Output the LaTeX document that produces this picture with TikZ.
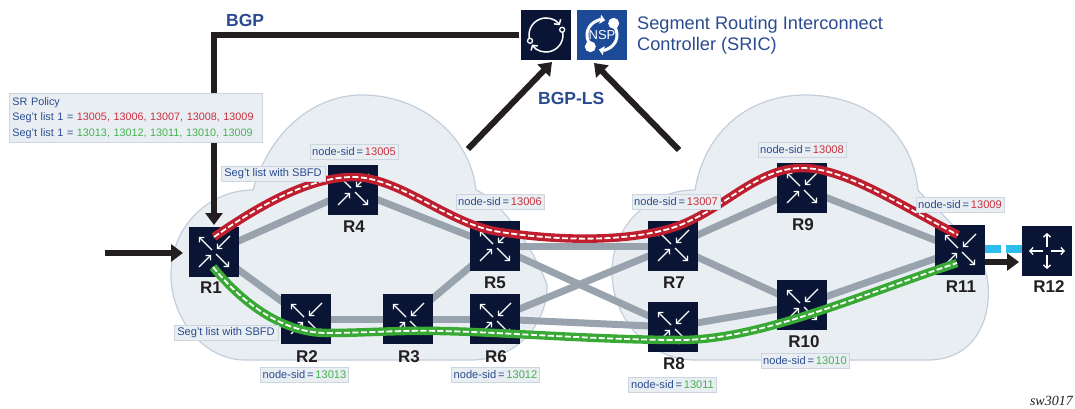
\documentclass[tikz,border=0pt]{standalone}
\usepackage{fontspec}
\setmainfont{Liberation Sans}
\newfontfamily\serfont{Liberation Serif}
\usetikzlibrary{arrows.meta}
\definecolor{cloudfill}{HTML}{E9EEF3}
\definecolor{cloudline}{HTML}{C3CEDB}
\definecolor{labline}{HTML}{CDD6E0}
\definecolor{linkgrey}{HTML}{98A3AE}
\definecolor{navy}{HTML}{0A1435}
\definecolor{nspblue}{HTML}{1D4A97}
\definecolor{txtblue}{HTML}{2A4B8F}
\definecolor{txtred}{HTML}{C9303F}
\definecolor{txtgreen}{HTML}{45B253}
\definecolor{pathred}{HTML}{BE1E2D}
\definecolor{pathgreen}{HTML}{39A935}
\definecolor{blk}{HTML}{231F20}
\definecolor{cyanlink}{HTML}{2FBDEB}
\tikzset{
  cloudshape/.style={fill=cloudfill,draw=cloudline,line width=1.2pt},
  glink/.style={draw=linkgrey,line width=7pt},
  routerbox/.style={fill=navy,draw=none,minimum size=50pt,inner sep=0pt,outer sep=2pt},
  rname/.style={font=\fontsize{17}{17}\selectfont\bfseries,text=blk,inner sep=0pt},
  lab/.style={fill=cloudfill,draw=labline,line width=0.9pt,inner sep=0pt,text=txtblue,font=\fontsize{11.1}{15.6}\selectfont},
  sidlab/.style={lab,minimum width=88pt,minimum height=15pt},
  heavy/.style={draw=blk,line width=6pt},
  heavyarrow/.style={heavy,-{Triangle[length=12pt,width=17pt]}},
  icoarrow/.style={draw=white,line width=1.3pt,-{Straight Barb[length=3.2pt,width=7pt]}},
  outerred/.style={draw=pathred,line width=8.5pt},
  outergreen/.style={draw=pathgreen,line width=8.5pt},
  innerdash/.style={draw=white,line width=1.8pt,dash pattern=on 6pt off 2.5pt},
  bluetitle/.style={text=txtblue,inner sep=0pt,anchor=west},
}
\newcommand{\rtr}[3]{% name, position, label position
  \node[routerbox] (#1) at (#2) {};
  \foreach \a/\b/\c/\d in {-2/-2/-15/-15,16/-16/3/-3,-15/15/-3/3,2/2/15/15}
    \draw[icoarrow] ([shift={(\a,\b)}]#1.center) -- ([shift={(\c,\d)}]#1.center);
  \node[rname] (#1lab) at (#3) {\MakeUppercase{#1}};
}
\newcommand{\sidbox}[4]{\node[sidlab] (#1) at (#2) {node-sid\,=\,\textcolor{#4}{#3}};}
\begin{document}
\begin{tikzpicture}[x=1pt,y=-1pt]
\useasboundingbox (0,0) rectangle (1075,409);
% clouds
\path[cloudshape] (253,190) .. controls (270,130) and (315,95) .. (362,95)
  .. controls (420,95) and (470,135) .. (476,190)
  .. controls (500,200) and (535,250) .. (547,285)
  .. controls (548,320) and (520,360) .. (470,360) -- (245,360)
  .. controls (205,360) and (171,320) .. (171,275)
  .. controls (171,225) and (210,190) .. (253,190) -- cycle;
\path[cloudshape] (695,190) .. controls (705,130) and (750,95) .. (805,95)
  .. controls (865,95) and (912,130) .. (918,190)
  .. controls (925,200) and (975,240) .. (985,270)
  .. controls (995,300) and (985,360) .. (928,360) -- (695,360)
  .. controls (650,360) and (612,320) .. (612,272)
  .. controls (612,225) and (650,190) .. (695,190) -- cycle;
% named positions for routers
\coordinate (pr1) at (214,252);
\coordinate (pr4) at (353,190);
\coordinate (pr2) at (306,319);
\coordinate (pr3) at (408,319);
\coordinate (pr5) at (495,246);
\coordinate (pr6) at (495,319);
\coordinate (pr7) at (673,246);
\coordinate (pr8) at (673,327);
\coordinate (pr9) at (802,188);
\coordinate (pr10) at (802,305);
\coordinate (pr11) at (960,250);
% links
\foreach \p/\q in {pr1/pr4,pr4/pr5,pr1/pr2,pr2/pr3,pr3/pr6,pr3/pr5,pr5/pr7,pr5/pr8,pr6/pr7,pr6/pr8,pr7/pr9,pr7/pr10,pr8/pr10,pr9/pr11,pr10/pr11}
  \draw[glink] (\p) -- (\q);
% routers
\rtr{r1}{pr1}{211,288}
\rtr{r4}{pr4}{354,227}
\rtr{r2}{pr2}{307,357}
\rtr{r3}{pr3}{409,357}
\rtr{r5}{pr5}{495,283}
\rtr{r6}{pr6}{496,357}
\rtr{r7}{pr7}{674,283}
\rtr{r8}{pr8}{674,364}
\rtr{r9}{pr9}{803,225}
\rtr{r10}{pr10}{804,342}
\rtr{r11}{pr11}{961,287}
% R12
\node[routerbox] (r12) at (1047,251) {};
\foreach \a/\b in {1/0,-1/0,0/1,0/-1}
  \draw[icoarrow] ([shift={(4*\a,4*\b)}]r12.center) -- ([shift={(18*\a,18*\b)}]r12.center);
\node[rname] (r12lab) at (1049,287) {R12};
% R11 - R12
\draw[draw=cyanlink,line width=8pt,dash pattern=on 16pt off 4.5pt] (985,249) -- (1022,249);
\coordinate (r11out) at (985,262);
\coordinate (r12in) at (1019,262);
\draw[heavyarrow] (r11out) -- (r12in);
% paths
\coordinate (redstart) at (214,237);
\coordinate (redend) at (958,235);
\coordinate (greenstart) at (213,267);
\coordinate (greenend) at (957,263);
\def\redpath{(redstart) .. controls (260,205) and (310,177) .. (353,177) .. controls (400,177) and (450,225) .. (500,232) .. controls (560,241) and (625,242) .. (672,228) .. controls (722,212) and (755,168) .. (802,168) .. controls (845,168) and (900,205) .. (redend)}
\def\greenpath{(greenstart) .. controls (240,300) and (280,333) .. (327,333) .. controls (365,333) and (400,330) .. (440,331) .. controls (500,332) and (600,340) .. (680,340) .. controls (760,340) and (860,295) .. (greenend)}
\draw[outerred] \redpath;
\draw[innerdash] \redpath;
\draw[outergreen] \greenpath;
\draw[innerdash] \greenpath;
% controller
\node[fill=navy,minimum size=50pt,inner sep=0pt,outer sep=2pt] (ctrl) at (546,35) {};
\node[fill=nspblue,minimum size=50pt,inner sep=0pt,outer sep=2pt] (nsp) at (602,35) {};
\draw[draw=white,line width=1.5pt,-{Straight Barb[length=3.5pt,width=8pt]}] (546,35) ++(200:17pt) arc[start angle=200,end angle=35,radius=17pt];
\draw[draw=white,line width=1.5pt,-{Straight Barb[length=3.5pt,width=8pt]}] (546,35) ++(18:17pt) arc[start angle=18,end angle=-146,radius=17pt];
\draw[draw=white,fill=navy,line width=1.3pt] (546,35) ++(200:17pt) circle[radius=2.5pt];
\draw[draw=white,fill=navy,line width=1.3pt] (546,35) ++(18:17pt) circle[radius=2.5pt];
% NSP icon
\draw[draw=white,line width=3pt,-{Triangle[length=5pt,width=9pt]}] (602,35) ++(215:15pt) arc[start angle=215,end angle=78,radius=15pt];
\draw[draw=white,line width=3pt,-{Triangle[length=5pt,width=9pt]}] (602,35) ++(35:15pt) arc[start angle=35,end angle=-102,radius=15pt];
\fill[white] (602,35) ++(45:16.5pt) circle[radius=5.5pt];
\fill[white] (602,35) ++(225:16.5pt) circle[radius=5.5pt];
\node[text=white,inner sep=0pt,font=\fontsize{13}{13}\selectfont] (nsptxt) at (602,35) {NSP};
% heavy connectors
\draw[heavyarrow] (ctrl.west) -| (r1.north);
\coordinate (inA) at (105,253);
\draw[heavyarrow,shorten >=4pt] (inA) -- (r1.west |- inA);
\coordinate (lsA) at (468,149);
\coordinate (lsAtip) at (552,62);
\coordinate (lsB) at (679,150);
\coordinate (lsBtip) at (594,63);
\draw[heavyarrow] (lsA) -- (lsAtip);
\draw[heavyarrow] (lsB) -- (lsBtip);
% titles
\node[bluetitle,font=\fontsize{17.5}{17.5}\selectfont\bfseries] (bgp) at (226,20) {BGP};
\node[bluetitle,font=\fontsize{17.5}{17.5}\selectfont\bfseries] (bgpls) at (538,98) {BGP-LS};
\node[bluetitle,font=\fontsize{18.2}{18.2}\selectfont] (sric1) at (637,25) {Segment Routing Interconnect};
\node[bluetitle,font=\fontsize{18.2}{18.2}\selectfont] (sric2) at (637,46) {Controller (SRIC)};
% policy box
\node[lab,anchor=north west,minimum height=49pt,align=left,text width=247pt,inner xsep=3pt,font=\fontsize{10.8}{15.6}\selectfont] (policy) at (9,93)
 {SR Policy\\
  Seg’t list 1 = \textcolor{txtred}{13005, 13006, 13007, 13008, 13009}\\
  Seg’t list 1 = \textcolor{txtgreen}{13013, 13012, 13011, 13010, 13009}};
% labels
\node[lab,minimum width=104pt,minimum height=15pt] (sb1) at (273,173.5) {Seg’t list with SBFD};
\node[lab,minimum width=104pt,minimum height=15pt] (sb2) at (226,333) {Seg’t list with SBFD};
\sidbox{s5}{354,152}{13005}{txtred}
\sidbox{s6}{500,202}{13006}{txtred}
\sidbox{s7}{676,202}{13007}{txtred}
\sidbox{s8}{802,150}{13008}{txtred}
\sidbox{s9}{960,205}{13009}{txtred}
\sidbox{s13}{304.5,375}{13013}{txtgreen}
\sidbox{s12}{495.5,375}{13012}{txtgreen}
\sidbox{s11}{672.5,384.5}{13011}{txtgreen}
\sidbox{s10}{805,360.5}{13010}{txtgreen}
\node[inner sep=0pt,text=blk,anchor=east,font=\serfont\itshape\fontsize{14}{14}\selectfont] (sw) at (1073,401) {sw3017};
\end{tikzpicture}
\end{document}
